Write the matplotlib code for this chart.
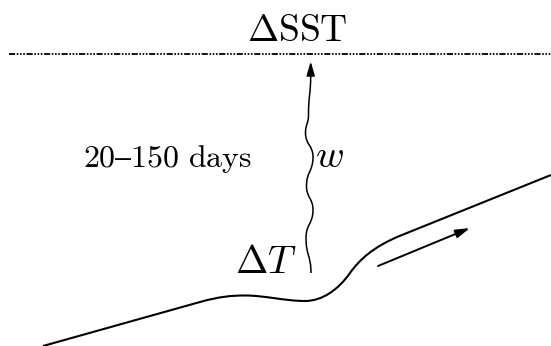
import matplotlib
matplotlib.use("Agg")
import matplotlib.pyplot as plt
from matplotlib.path import Path
from matplotlib.patches import PathPatch

plt.rcParams['mathtext.fontset'] = 'cm'

# ---- data (pixel-space diagram coordinates, y downwards) ----
W, H = 551, 346
surface_y = 54
surface_x = [9, 551]

# thermocline: straight start, bump, dip, steep rise, straight end
thermo_start = (43, 346)
thermo_knee = (200, 302)
thermo_bezier = [  # (c1, c2, end) for cubic segments
    ((220, 296.4), (232, 295.5), (245, 295.5)),
    ((265, 295.5), (285, 301.0), (305, 301.0)),
    ((322, 301.0), (338, 290.0), (350, 273.0)),
    ((360, 259.0), (374, 246.5), (400, 235.8)),
]
thermo_end = (551, 175)

# wavy vertical (w) path extrema, top to bottom
wave_x = [310.7, 308.5, 305.5, 313.0, 306.5, 313.0, 306.0, 311.0]
wave_y = [75.0, 115.0, 133.0, 157.0, 186.0, 210.0, 238.0, 273.0]
wave_tip = (310.7, 61.5)

# along-slope arrow
flow_tail = (378, 266)
flow_head = (470, 228)

labels = {
    'sst': r'$\Delta\mathrm{SST}$',
    'period': r'$\mathrm{20–150\ days}$',
    'w': r'$w$',
    'dT': r'$\Delta T$',
}

fig = plt.figure(figsize=(W / 100, H / 100), dpi=100)
ax = fig.add_axes([0, 0, 1, 1])
ax.set_xlim(0, W)
ax.set_ylim(H, 0)
ax.axis('off')

# surface dash-dot-dot line
ax.plot(surface_x, [surface_y, surface_y], color='black', lw=1.3,
        linestyle=(0, (3.4, 0.9, 0.9, 0.9, 0.9, 0.9, 0.9, 0.9)))

# thermocline
verts = [thermo_start, thermo_knee]
codes = [Path.MOVETO, Path.LINETO]
for c1, c2, e in thermo_bezier:
    verts += [c1, c2, e]
    codes += [Path.CURVE4] * 3
verts.append(thermo_end)
codes.append(Path.LINETO)
ax.add_patch(PathPatch(Path(verts, codes), fill=False, lw=1.5, edgecolor='black',
                       capstyle='butt', joinstyle='round'))

# wavy line: cubic segments with vertical tangents at extrema
wverts = [(wave_x[0], wave_y[0])]
wcodes = [Path.MOVETO]
for i in range(len(wave_x) - 1):
    x1, y1, x2, y2 = wave_x[i], wave_y[i], wave_x[i + 1], wave_y[i + 1]
    d = (y2 - y1) / 2.0
    wverts += [(x1, y1 + d), (x2, y2 - d), (x2, y2)]
    wcodes += [Path.CURVE4] * 3
ax.add_patch(PathPatch(Path(wverts, wcodes), fill=False, lw=1.1, edgecolor='black'))
ax.annotate('', xy=wave_tip, xytext=(wave_x[0], wave_y[0] + 1),
            arrowprops=dict(arrowstyle='-|>,head_length=0.85,head_width=0.25',
                            lw=1.1, color='black', shrinkA=0, shrinkB=0,
                            mutation_scale=10))

# flow arrow
ax.annotate('', xy=flow_head, xytext=flow_tail,
            arrowprops=dict(arrowstyle='-|>,head_length=0.85,head_width=0.25',
                            lw=1.4, color='black', shrinkA=0, shrinkB=0,
                            mutation_scale=10))

# labels
ax.text(297, 41, labels['sst'], fontsize=27, ha='center', va='baseline')
ax.text(83, 167, labels['period'], fontsize=23, ha='left', va='baseline')
ax.text(315, 167, labels['w'], fontsize=28, ha='left', va='baseline')
ax.text(297, 273, labels['dT'], fontsize=28, ha='right', va='baseline')

fig.savefig('out.png', dpi=100)
